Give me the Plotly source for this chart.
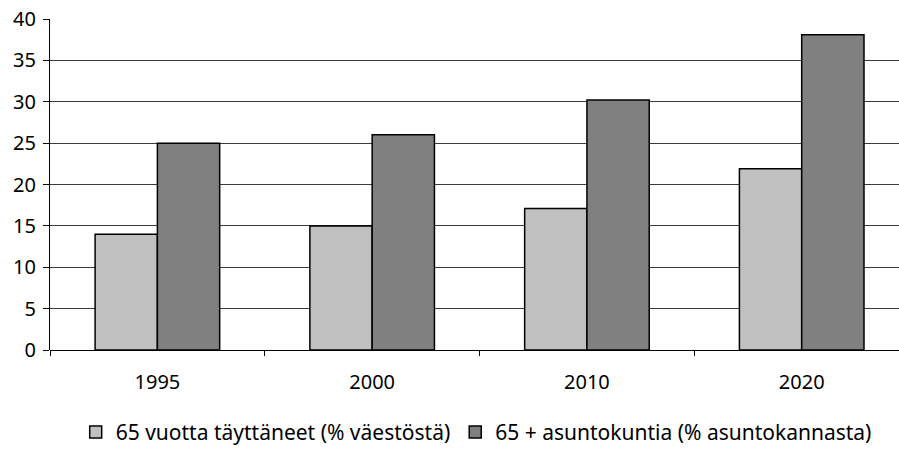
import plotly.graph_objects as go

years = ["1995", "2000", "2010", "2020"]
share_65 = [14.0, 15.0, 17.1, 21.9]
households_65 = [25.0, 26.0, 30.2, 38.1]
name_1 = "65 vuotta täyttäneet (% väestöstä)"
name_2 = "65 + asuntokuntia (% asuntokannasta)"

fig = go.Figure()
fig.add_trace(go.Bar(x=years, y=share_65, name=name_1,
                     marker=dict(color="#c0c0c0", line=dict(color="#000000", width=1.5))))
fig.add_trace(go.Bar(x=years, y=households_65, name=name_2,
                     marker=dict(color="#808080", line=dict(color="#000000", width=1.5))))

font = "Noto Sans, DejaVu Sans, sans-serif"
fig.update_layout(
    width=899, height=459,
    margin=dict(l=50, r=0, t=19, b=109, autoexpand=False),
    plot_bgcolor="white", paper_bgcolor="white",
    barmode="group", bargap=0.42, bargroupgap=0,
    font=dict(family=font, size=20, color="#000000"),
    showlegend=True,
    legend=dict(orientation="h", x=0.502, xanchor="center", y=-0.249, yanchor="middle",
                font=dict(size=21), traceorder="normal", itemwidth=30,
                tracegroupgap=0),
)
fig.update_xaxes(
    type="category", range=[-0.5, 3.453], automargin=False,
    showline=False, ticks="outside", tickson="boundaries", ticklen=5,
    tickcolor="#000000", showgrid=False, ticklabelstandoff=18,
    tickfont=dict(size=20),
)
fig.update_yaxes(
    range=[0, 40], dtick=5, showline=True, linecolor="#000000", linewidth=1,
    automargin=False,
    ticks="outside", ticklen=6, tickcolor="#000000",
    showgrid=True, gridcolor="#3a3a3a", gridwidth=1,
    zeroline=True, zerolinecolor="#000000", zerolinewidth=1,
    tickfont=dict(size=20), ticklabelstandoff=3,
)
fig.write_html("out.html", config={"displayModeBar": False},
               post_script="document.body.style.margin='0';")
